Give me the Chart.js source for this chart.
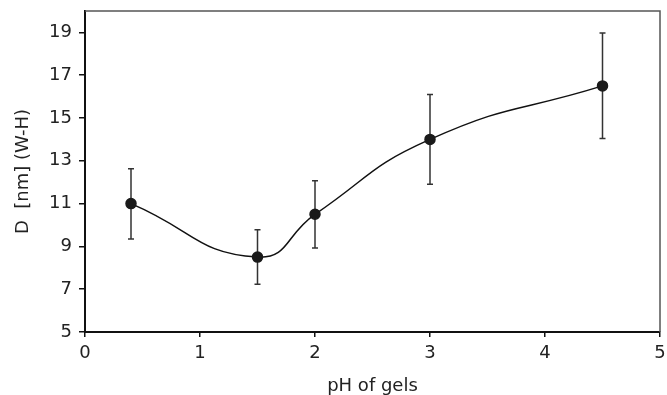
<!DOCTYPE html>
<html>
<head>
<meta charset="utf-8">
<script src="https://cdn.jsdelivr.net/npm/chart.js@4/dist/chart.umd.min.js"></script>
<style>
  html, body { margin: 0; padding: 0; background: #fff; overflow: hidden; }
</style>
</head>
<body>
<canvas id="phChart" width="667" height="395"></canvas>
<script>
// values
const phValues = [0.4, 1.5, 2, 3, 4.5];
const diameters = [11, 8.5, 10.5, 14, 16.5];
const errLow = [9.35, 7.23, 8.93, 11.9, 14.04];
const errHigh = [12.63, 9.78, 12.07, 16.1, 18.97];
const xTicks = [0, 1, 2, 3, 4, 5];
const yTicks = [5, 7, 9, 11, 13, 15, 17, 19];

Chart.defaults.font.family = "'DejaVu Sans', sans-serif";
Chart.defaults.color = '#222';

// error bars, drawn under the dots
const errorBars = {
    id: 'errorBars',
    beforeDatasetsDraw(chart) {
        const ctx = chart.ctx;
        const x = chart.scales.x, y = chart.scales.y;
        ctx.save();
        ctx.strokeStyle = '#333';
        ctx.lineWidth = 1.5;
        phValues.forEach(function (v, i) {
            const px = x.getPixelForValue(v);
            const top = y.getPixelForValue(errHigh[i]);
            const bot = y.getPixelForValue(errLow[i]);
            ctx.beginPath();
            ctx.moveTo(px, top); ctx.lineTo(px, bot);
            ctx.moveTo(px - 3, top); ctx.lineTo(px + 3, top);
            ctx.moveTo(px - 3, bot); ctx.lineTo(px + 3, bot);
            ctx.stroke();
        });
        ctx.restore();
    }
};

// thin frame on top and right
const frame = {
    id: 'frame',
    afterDraw(chart) {
        const a = chart.chartArea, ctx = chart.ctx;
        ctx.save();
        ctx.strokeStyle = '#555';
        ctx.lineWidth = 1.5;
        ctx.beginPath();
        ctx.moveTo(a.left, a.top);
        ctx.lineTo(a.right, a.top);
        ctx.lineTo(a.right, a.bottom);
        ctx.stroke();
        ctx.restore();
    }
};

new Chart(document.getElementById('phChart'), {
    type: 'line',
    data: {
        datasets: [{
            data: phValues.map((v, i) => ({ x: v, y: diameters[i] })),
            borderColor: '#111',
            borderWidth: 1.5,
            backgroundColor: '#1a1a1a',
            pointBackgroundColor: '#1a1a1a',
            pointBorderColor: '#1a1a1a',
            pointRadius: 5,
            tension: 0.5,
            fill: false
        }]
    },
    options: {
        responsive: false,
        animation: false,
        layout: { padding: { top: 11, right: 7, left: 0, bottom: 0 } },
        plugins: {
            legend: { display: false },
            tooltip: { enabled: false }
        },
        scales: {
            x: {
                type: 'linear',
                min: 0,
                max: 5,
                afterBuildTicks: function (axis) {
                    axis.ticks = xTicks.map(v => ({ value: v }));
                },
                afterFit: function (axis) {
                    axis.height = 63;
                    axis.paddingLeft = 0;
                    axis.paddingRight = 0;
                },
                grid: { display: true, drawOnChartArea: false, drawTicks: true, tickLength: 5, color: '#111', lineWidth: 1.5 },
                border: { display: true, color: '#111', width: 2 },
                ticks: { font: { size: 18 }, padding: 6, maxRotation: 0 },
                title: {
                    display: true,
                    text: 'pH of gels',
                    font: { size: 18, lineHeight: 1 },
                    padding: { top: 0, bottom: 0 }
                }
            },
            y: {
                type: 'linear',
                min: 5,
                max: 20,
                afterBuildTicks: function (axis) {
                    axis.ticks = yTicks.map(v => ({ value: v }));
                },
                afterFit: function (axis) {
                    axis.width = 85;
                    axis.paddingTop = 0;
                    axis.paddingBottom = 0;
                },
                grid: { display: true, drawOnChartArea: false, drawTicks: true, tickLength: 6, color: '#111', lineWidth: 1.5 },
                border: { display: true, color: '#111', width: 2 },
                ticks: { font: { size: 18 }, padding: 7 },
                title: {
                    display: true,
                    text: 'D  [nm] (W-H)',
                    font: { size: 18, lineHeight: 1 },
                    padding: { top: 14, bottom: 0 }
                }
            }
        }
    },
    plugins: [errorBars, frame]
});
</script>
</body>
</html>
